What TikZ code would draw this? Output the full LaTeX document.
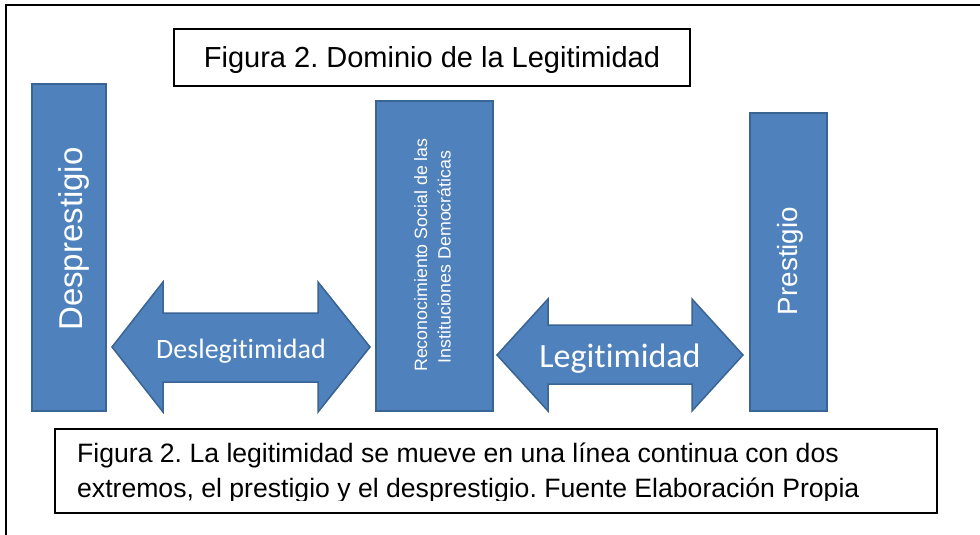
\documentclass[tikz,border=0pt]{standalone}
\usepackage{fontspec}
\setmainfont{Liberation Sans}
\newfontfamily\calibrifont[Ligatures=NoCommon]{Carlito}
\definecolor{barblue}{HTML}{4F81BD}
\definecolor{bardark}{HTML}{3A6494}
\frenchspacing
\begin{document}
\begin{tikzpicture}[x=1pt,y=-1pt]

    \tikzset{
      bar/.style={
        fill=barblue,
        draw=bardark,
        line width=1.5,
      },
      bartext/.style={
        text=white,
        inner sep=0pt,
        rotate=90,
        anchor=base,
      },
      frame/.style={
        draw=black,
        line width=1.5,
        fill=white,
      },
      arrowtext/.style={
        text=white,
        inner sep=0pt,
        anchor=base,
        font=\calibrifont,
      },
    }
    \useasboundingbox (0,0) rectangle (980,535);

	\draw[color ={black},line width = 2] (6,535)--(6,5)--(980,5);
	% titulo
	\draw[frame] (174,29) rectangle (690,86);
	\node[anchor = base,inner sep=0pt] (titulo) at (432,68) {\fontsize{29}{34}\selectfont Figura 2. Dominio de la Legitimidad};
	% barras
	\draw[bar] (32,84) rectangle (106,411);
	\draw[bar] (376,101) rectangle (493,411);
	\draw[bar] (750,113) rectangle (827,411);
	\node[bartext] (desprestigio) at (82,239) {\fontsize{33}{38}\selectfont Desprestigio};
	\node[bartext] (reconocimiento) at (427,255) {\fontsize{17.8}{21}\selectfont Reconocimiento Social de las};
	\node[bartext] (instituciones) at (450.5,257) {\fontsize{17.8}{21}\selectfont Instituciones Democráticas};
	\node[bartext] (prestigio) at (797,261) {\fontsize{27.8}{32}\selectfont Prestigio};
	% flechas
	\draw[bar] (112,347)--(163,282)--(163,313)--(318,313)--(318,282)--(370,347)--(318,412)--(318,382)--(163,382)--(163,412)--cycle;
	\draw[bar] (497,355)--(548,299)--(548,325)--(692,325)--(692,299)--(743,355)--(692,411)--(692,384)--(548,384)--(548,411)--cycle;
	\node[arrowtext] (deslegitimidad) at (241,358) {\fontsize{28}{32}\selectfont Deslegitimidad};
	\node[arrowtext] (legitimidad) at (620,367) {\fontsize{34}{40}\selectfont Legitimidad};
	% pie
	\draw[frame] (55,429) rectangle (937,513);
	\begin{scope}
	\clip (55,429) rectangle (937,500);
	\node[anchor = base west,inner sep=0pt] (pie1) at (77,462) {\fontsize{26.6}{32}\selectfont Figura 2. La legitimidad se mueve en una línea continua con dos};
	\node[anchor = base west,inner sep=0pt] (pie2) at (77,497) {\fontsize{26.6}{32}\selectfont extremos, el prestigio y el desprestigio. Fuente Elaboración Propia};
	\end{scope}

\end{tikzpicture}
\end{document}
